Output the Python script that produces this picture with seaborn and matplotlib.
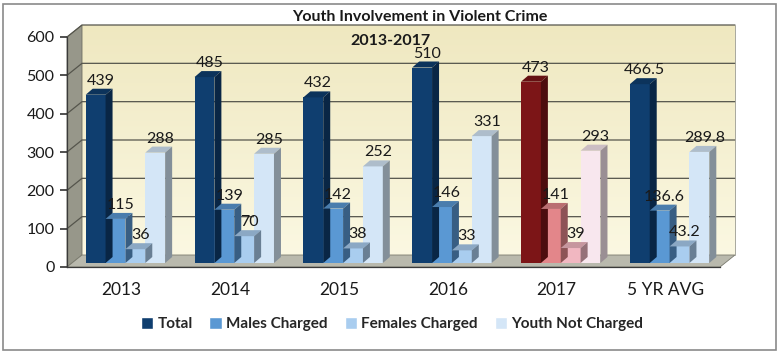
import numpy as np
import pandas as pd
import matplotlib
matplotlib.use("Agg")
import matplotlib.pyplot as plt
import matplotlib.colors as mcolors
from matplotlib.patches import Polygon, Rectangle, Patch
from matplotlib.transforms import Affine2D, IdentityTransform
import seaborn as sns

# data
years = ["2013", "2014", "2015", "2016", "2017", "5 YR AVG"]
series = ["Total", "Males Charged", "Females Charged", "Youth Not Charged"]
total = [439, 485, 432, 510, 473, 466.5]
males = [115, 139, 142, 146, 141, 136.6]
females = [36, 70, 38, 33, 39, 43.2]
not_charged = [288, 285, 252, 331, 293, 289.8]
y_ticks = [0, 100, 200, 300, 400, 500, 600]

blue_colors = ["#0F3E6F", "#5A98D3", "#A9CDEF", "#D4E6F7"]
red_colors = ["#7C1517", "#E3868A", "#F1B7C1", "#F8E7EE"]
highlight_year = "2017"

df = pd.DataFrame({
    "year": years * 4,
    "series": np.repeat(series, len(years)),
    "value": total + males + females + not_charged,
})

sns.set_theme(style="white")
plt.rcParams["font.family"] = ["Lato", "DejaVu Sans"]

fig = plt.figure(figsize=(7.8, 3.53), dpi=100)
ax = fig.add_axes([67 / 780, 86 / 353, 653 / 780, 230 / 353])
ax.set_facecolor("none")

sns.barplot(data=df, x="year", y="value", hue="series", palette=blue_colors,
            width=0.73, saturation=1, errorbar=None, legend=False,
            linewidth=0, ax=ax, zorder=3)

ax.set_xlim(-0.5, len(years) - 0.5)
ax.set_ylim(0, 600)

# 3D look: back wall offset, bar offset and bar depth (pixels)
wall_dx, wall_dy = 15, 12
bar_dx, bar_dy = 4, 4
dep_dx, dep_dy = 7, 6

ident = IdentityTransform()
fig.canvas.draw()
bb = ax.bbox
xl, xr, yb, yt = bb.x0, bb.x1, bb.y0, bb.y1

# back wall with a soft gradient
grad = np.linspace(0, 1, 256).reshape(-1, 1)
wall_cmap = mcolors.LinearSegmentedColormap.from_list("wall", ["#FBF8E2", "#EFE8C0"])
ax.imshow(grad, cmap=wall_cmap, aspect="auto", extent=(-0.5, len(years) - 0.5, 600, 0),
          transform=ax.transData + Affine2D().translate(wall_dx, wall_dy),
          zorder=0.1, clip_on=False)
ax.set_xlim(-0.5, len(years) - 0.5)
ax.set_ylim(0, 600)

# left side wall and floor
ax.add_patch(Polygon([(xl, yb), (xl, yt), (xl + wall_dx, yt + wall_dy), (xl + wall_dx, yb + wall_dy)],
                     closed=True, facecolor="#97978A", edgecolor="#6E6E62", lw=0.6,
                     transform=ident, clip_on=False, zorder=0.2))
ax.add_patch(Polygon([(xl, yb), (xr, yb), (xr + wall_dx, yb + wall_dy), (xl + wall_dx, yb + wall_dy)],
                     closed=True, facecolor="#B9B9AD", edgecolor="#7A7A6E", lw=0.6,
                     transform=ident, clip_on=False, zorder=0.3))

# gridlines on the back wall and side wall
for v in y_ticks[1:]:
    y = ax.transData.transform((0, v))[1]
    ax.plot([xl, xl + wall_dx, xr + wall_dx], [y, y + wall_dy, y + wall_dy],
            color="#55554C", lw=0.9, transform=ident, clip_on=False, zorder=0.25)
ax.plot([xr + wall_dx, xr + wall_dx], [yb + wall_dy, yt + wall_dy],
        color="#9A9A8E", lw=0.6, transform=ident, clip_on=False, zorder=0.25)


def shade(c, f):
    r, g, b = mcolors.to_rgb(c)
    if f > 1:
        return tuple(x + (1 - x) * (f - 1) for x in (r, g, b))
    return (r * f, g * f, b * f)


hi = years.index(highlight_year)
shift = Affine2D().translate(bar_dx, bar_dy)
for s_idx, cont in enumerate(ax.containers):
    for x_idx, bar in enumerate(cont):
        if x_idx == hi:
            bar.set_facecolor(red_colors[s_idx])
        col = bar.get_facecolor()
        bar.set_transform(ax.transData + shift)
        bar.set_clip_on(False)
        x, w, h = bar.get_x(), bar.get_width(), bar.get_height()
        (x0, y0) = ax.transData.transform((x, 0)) + (bar_dx, bar_dy)
        (x1, y1) = ax.transData.transform((x + w, h)) + (bar_dx, bar_dy)
        top = [(x0, y1), (x1, y1), (x1 + dep_dx, y1 + dep_dy), (x0 + dep_dx, y1 + dep_dy)]
        side = [(x1, y0), (x1 + dep_dx, y0 + dep_dy), (x1 + dep_dx, y1 + dep_dy), (x1, y1)]
        ax.add_patch(Polygon(top, closed=True, facecolor=shade(col, 0.82), lw=0,
                             transform=ident, clip_on=False, zorder=3))
        ax.add_patch(Polygon(side, closed=True, facecolor=shade(col, 0.62), lw=0,
                             transform=ident, clip_on=False, zorder=3))
        ax.annotate(f"{h:g}", xy=(x + w / 2, h), xytext=(bar_dx + 5, bar_dy + 14),
                    textcoords="offset pixels", ha="center", va="center",
                    fontsize=11.5, color="#1A1A1A", zorder=4, annotation_clip=False)

# axes lines and ticks
for side in ["top", "right"]:
    ax.spines[side].set_visible(False)
for side in ["left", "bottom"]:
    ax.spines[side].set_color("#3A3A3A")
    ax.spines[side].set_linewidth(0.9)
ax.set_yticks(y_ticks)
ax.set_yticklabels([str(t) for t in y_ticks], fontsize=11.5, color="#1A1A1A")
ax.set_xticks(range(len(years)))
ax.set_xticklabels(years, fontsize=12.5, color="#1A1A1A")
ax.set_xticks(np.arange(-0.5, len(years)), minor=True)
ax.tick_params(axis="x", which="major", length=0, pad=11)
ax.tick_params(axis="x", which="minor", length=5, color="#3A3A3A", direction="out")
ax.tick_params(axis="y", length=5, color="#3A3A3A", direction="out", pad=4, left=True)
ax.set_xlabel("")
ax.set_ylabel("")

fig.text(420 / 780, 1 - 17 / 353, "Youth Involvement in Violent Crime",
         ha="center", va="center", fontsize=11.5, fontweight="bold", color="#1A1A1A")
fig.text(390 / 780, 1 - 41 / 353, "2013-2017",
         ha="center", va="center", fontsize=11.5, fontweight="bold", color="#1A1A1A")

handles = [Patch(facecolor=c) for c in blue_colors]
fig.legend(handles, series, loc="center", bbox_to_anchor=(392 / 780, 1 - 324 / 353),
           ncol=4, frameon=False, handlelength=0.8, handleheight=0.8,
           handletextpad=0.3, columnspacing=1.1,
           prop={"weight": "bold", "size": 11})

fig.add_artist(Rectangle((3 / 780, 3 / 353), 773 / 780, 346 / 353, transform=fig.transFigure,
                         fill=False, edgecolor="#8A8A8A", lw=1.2))

fig.savefig("out.png", dpi=100)
